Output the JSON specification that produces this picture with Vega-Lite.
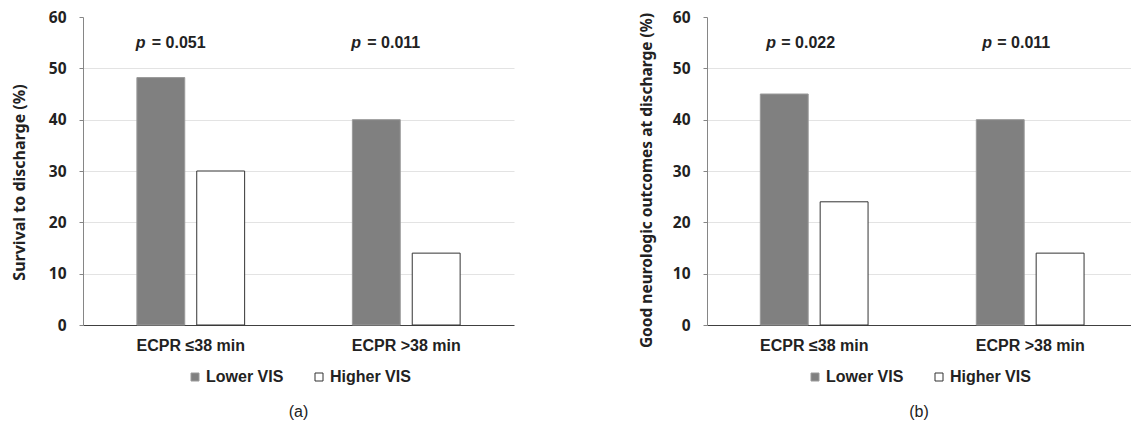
{
  "$schema": "https://vega.github.io/schema/vega-lite/v6.json",
  "padding": {"left": 11, "top": 10, "right": 0, "bottom": 0},
  "background": "white",
  "datasets": {
    "a": [
      {"ecpr": "ECPR ≤38 min", "vis": "Lower VIS", "pct": 48.2},
      {"ecpr": "ECPR ≤38 min", "vis": "Higher VIS", "pct": 30},
      {"ecpr": "ECPR >38 min", "vis": "Lower VIS", "pct": 40},
      {"ecpr": "ECPR >38 min", "vis": "Higher VIS", "pct": 14}
    ],
    "pa": [
      {"ecpr": "ECPR ≤38 min", "p": "= 0.051"},
      {"ecpr": "ECPR >38 min", "p": "= 0.011"}
    ],
    "b": [
      {"ecpr": "ECPR ≤38 min", "vis": "Lower VIS", "pct": 45},
      {"ecpr": "ECPR ≤38 min", "vis": "Higher VIS", "pct": 24},
      {"ecpr": "ECPR >38 min", "vis": "Lower VIS", "pct": 40},
      {"ecpr": "ECPR >38 min", "vis": "Higher VIS", "pct": 14}
    ],
    "pb": [
      {"ecpr": "ECPR ≤38 min", "p": "= 0.022"},
      {"ecpr": "ECPR >38 min", "p": "= 0.011"}
    ]
  },
  "config": {
    "font": "Liberation Sans",
    "view": {"stroke": null},
    "axisY": {
      "values": [0, 10, 20, 30, 40, 50, 60],
      "tickSize": 4,
      "tickColor": "#868686",
      "domainColor": "#868686",
      "grid": true,
      "gridColor": {"condition": {"test": "datum.value >= 60 || datum.value <= 0", "value": "transparent"}, "value": "#e3e3e3"},
      "labelFont": "Noto Sans",
      "labelFontWeight": "bold",
      "labelFontSize": 15.5,
      "labelColor": "#222222",
      "labelPadding": 13,
      "titleFont": "Noto Sans",
      "titleFontWeight": "bold",
      "titleFontSize": 16,
      "titleColor": "#222222",
      "titlePadding": 18
    },
    "axisX": {
      "ticks": false,
      "domainColor": "#404040",
      "labelAngle": 0,
      "labelPadding": 12,
      "labelFont": "Liberation Sans",
      "labelFontWeight": "bold",
      "labelFontSize": 16,
      "labelColor": "#222222",
      "title": null,
      "grid": false
    },
    "legend": {
      "orient": "bottom",
      "direction": "horizontal",
      "title": null,
      "symbolType": "square",
      "symbolSize": 64,
      "symbolStrokeWidth": 1,
      "labelFont": "Liberation Sans",
      "labelFontSize": 16,
      "labelFontWeight": "bold",
      "labelColor": "#222222",
      "labelOffset": 3,
      "columnPadding": 27,
      "offset": 16,
      "layout": {"bottom": {"anchor": "middle"}}
    },
    "title": {"orient": "bottom", "anchor": "middle", "frame": "group", "font": "Liberation Sans", "fontSize": 16, "fontWeight": "normal", "color": "#222222", "offset": 19}
  },
  "spacing": 125,
  "resolve": {"scale": {"fill": "independent", "stroke": "independent"}, "legend": {"fill": "independent", "stroke": "independent"}},
  "hconcat": [
    {
      "width": 431,
      "height": 308,
      "title": {"text": "(a)"},
      "layer": [
        {
          "data": {"name": "a"},
          "mark": {"type": "bar", "strokeWidth": 1},
          "encoding": {
            "x": {"field": "ecpr", "type": "nominal", "sort": null, "scale": {"domain": ["ECPR ≤38 min", "ECPR >38 min"], "paddingInner": 0.5, "paddingOuter": 0.25}},
            "xOffset": {"field": "vis", "type": "nominal", "scale": {"domain": ["Lower VIS", "Higher VIS"], "paddingInner": 0.2, "paddingOuter": 0}},
            "y": {"field": "pct", "type": "quantitative", "scale": {"domain": [0, 60]}, "axis": {"title": "Survival to discharge (%)", "titleY": 165, "titlePadding": 21}},
            "fill": {"field": "vis", "type": "nominal", "scale": {"domain": ["Lower VIS", "Higher VIS"], "range": ["#808080", "#ffffff"]}},
            "stroke": {"field": "vis", "type": "nominal", "scale": {"domain": ["Lower VIS", "Higher VIS"], "range": ["#9a9a9a", "#333333"]}}
          }
        },
        {
          "data": {"name": "pa"},
          "mark": {"type": "text", "align": "left", "baseline": "middle", "dx": -55, "font": "Liberation Sans", "fontSize": 16, "fontWeight": "bold", "fontStyle": "italic", "color": "#222222"},
          "encoding": {
            "x": {"field": "ecpr", "type": "nominal", "sort": null},
            "y": {"datum": 55, "type": "quantitative"},
            "text": {"value": "p"}
          }
        },
        {
          "data": {"name": "pa"},
          "mark": {"type": "text", "align": "left", "baseline": "middle", "dx": -39, "font": "Liberation Sans", "fontSize": 16, "fontWeight": "bold", "color": "#222222"},
          "encoding": {
            "x": {"field": "ecpr", "type": "nominal", "sort": null},
            "y": {"datum": 55, "type": "quantitative"},
            "text": {"field": "p"}
          }
        }
      ]
    },
    {
      "width": 424,
      "height": 308,
      "title": {"text": "(b)"},
      "layer": [
        {
          "data": {"name": "b"},
          "mark": {"type": "bar", "strokeWidth": 1},
          "encoding": {
            "x": {"field": "ecpr", "type": "nominal", "sort": null, "scale": {"domain": ["ECPR ≤38 min", "ECPR >38 min"], "paddingInner": 0.5, "paddingOuter": 0.2315, "align": 0.533}},
            "xOffset": {"field": "vis", "type": "nominal", "scale": {"domain": ["Lower VIS", "Higher VIS"], "paddingInner": 0.2, "paddingOuter": 0}},
            "y": {"field": "pct", "type": "quantitative", "scale": {"domain": [0, 60]}, "axis": {"title": "Good neurologic outcomes at discharge (%)", "titleFontSize": 15.5, "titleY": 163}},
            "fill": {"field": "vis", "type": "nominal", "scale": {"domain": ["Lower VIS", "Higher VIS"], "range": ["#808080", "#ffffff"]}},
            "stroke": {"field": "vis", "type": "nominal", "scale": {"domain": ["Lower VIS", "Higher VIS"], "range": ["#9a9a9a", "#333333"]}}
          }
        },
        {
          "data": {"name": "pb"},
          "mark": {"type": "text", "align": "left", "baseline": "middle", "dx": -48, "font": "Liberation Sans", "fontSize": 16, "fontWeight": "bold", "fontStyle": "italic", "color": "#222222"},
          "encoding": {
            "x": {"field": "ecpr", "type": "nominal", "sort": null},
            "y": {"datum": 55, "type": "quantitative"},
            "text": {"value": "p"}
          }
        },
        {
          "data": {"name": "pb"},
          "mark": {"type": "text", "align": "left", "baseline": "middle", "dx": -33, "font": "Liberation Sans", "fontSize": 16, "fontWeight": "bold", "color": "#222222"},
          "encoding": {
            "x": {"field": "ecpr", "type": "nominal", "sort": null},
            "y": {"datum": 55, "type": "quantitative"},
            "text": {"field": "p"}
          }
        }
      ]
    }
  ]
}
